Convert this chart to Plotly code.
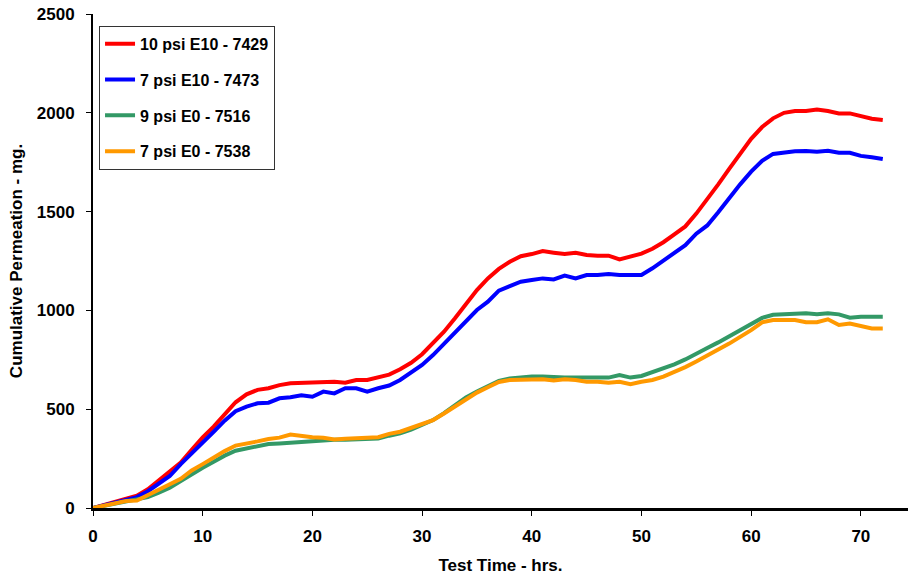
import plotly.graph_objects as go

# Test time (hours), one reading per hour
hours = list(range(0, 73))

# Cumulative permeation (mg) for each test
perm_10psi_e10 = [
    0, 15, 30, 45, 62, 95, 140, 180, 230, 295,
    358, 412, 475, 535, 575, 598, 606, 622, 631, 634,
    636, 639, 639, 634, 648, 648, 659, 675, 702, 735,
    778, 833, 892, 960, 1030, 1103, 1162, 1210, 1246, 1274,
    1285, 1300, 1292, 1285, 1292, 1280, 1277, 1277, 1258, 1272,
    1287, 1312, 1345, 1385, 1425, 1490, 1562, 1638, 1716, 1793,
    1868, 1928, 1972, 2000, 2009, 2009, 2016, 2009, 1997, 1997,
    1982, 1970, 1964,
]
perm_7psi_e10 = [
    0, 15, 28, 40, 55, 85, 125, 162, 222, 275,
    330, 386, 442, 490, 513, 530, 533, 555, 560, 570,
    563, 589, 580, 606, 606, 589, 606, 620, 648, 685,
    724, 774, 830, 887, 945, 1002, 1044, 1100, 1123, 1145,
    1154, 1162, 1157, 1176, 1162, 1179, 1179, 1184, 1179, 1179,
    1179, 1213, 1252, 1295, 1330, 1388, 1430, 1497, 1570, 1638,
    1702, 1757, 1792, 1800, 1805, 1807, 1803, 1808, 1798, 1798,
    1782, 1775, 1766,
]
perm_9psi_e0 = [
    0, 10, 22, 33, 40, 55, 78, 103, 137, 172,
    204, 234, 265, 290, 302, 315, 324, 327, 331, 335,
    338, 341, 345, 345, 347, 345, 352, 366, 378, 397,
    420, 445, 480, 521, 560, 589, 618, 643, 656, 661,
    665, 665, 660, 660, 660, 660, 660, 660, 673, 660,
    668, 687, 703, 727, 752, 783, 810, 838, 868, 900,
    932, 962, 978, 980, 985, 985, 980, 985, 980, 963,
    968, 968, 968,
]
perm_7psi_e0 = [
    0, 12, 25, 35, 38, 65, 88, 120, 148, 190,
    222, 257, 288, 316, 324, 337, 349, 356, 372, 364,
    358, 355, 347, 350, 355, 355, 358, 375, 386, 404,
    424, 445, 478, 513, 552, 584, 611, 638, 648, 648,
    650, 652, 645, 652, 648, 639, 639, 634, 639, 627,
    639, 648, 665, 688, 713, 741, 770, 798, 832, 866,
    900, 940, 951, 951, 951, 940, 940, 955, 926, 934,
    921, 909, 909,
]

series_names = ["10 psi E10 - 7429", "7 psi E10 - 7473", "9 psi E0 - 7516", "7 psi E0 - 7538"]
series_values = [perm_10psi_e10, perm_7psi_e10, perm_9psi_e0, perm_7psi_e0]
series_colors = ["#FF0000", "#0000FF", "#339966", "#FF9900"]

x_ticks = [0, 10, 20, 30, 40, 50, 60, 70]
y_ticks = [0, 500, 1000, 1500, 2000, 2500]

FONT = "Liberation Sans, Arial, sans-serif"

fig = go.Figure()
for i, (name, vals, col) in enumerate(zip(series_names, series_values, series_colors)):
    fig.add_trace(go.Scatter(
        x=hours, y=vals, name=name, mode="lines",
        line=dict(color=col, width=4),
        legendgroup=f"g{i}",
    ))

fig.update_layout(
    width=909, height=576,
    margin=dict(l=93, r=1, t=14, b=68),
    paper_bgcolor="white", plot_bgcolor="white",
    font=dict(family=FONT, color="black"),
    showlegend=True,
    legend=dict(
        x=0.0074, y=0.976, xanchor="left", yanchor="top",
        bgcolor="white", bordercolor="#333333", borderwidth=1,
        font=dict(family=FONT, size=16, color="black", weight="bold"),
        tracegroupgap=12,
    ),
)

fig.update_xaxes(
    range=[0, 74.3], tickvals=x_ticks,
    showline=True, linecolor="black", linewidth=3,
    ticks="outside", ticklen=5, tickcolor="black", tickwidth=1,
    showgrid=False, zeroline=False,
    tickfont=dict(family=FONT, size=17, color="black", weight="bold"),
    ticklabelstandoff=6,
    title=dict(text="Test Time - hrs.", standoff=14,
               font=dict(family=FONT, size=17, color="black", weight="bold")),
)
fig.update_yaxes(
    range=[0, 2500], tickvals=y_ticks,
    showline=True, linecolor="black", linewidth=2,
    ticks="outside", ticklen=5, tickcolor="black", tickwidth=1,
    showgrid=False, zeroline=False,
    tickfont=dict(family=FONT, size=17, color="black", weight="bold"),
    ticklabelstandoff=8,
    title=dict(text="Cumulative Permeation - mg.", standoff=10,
               font=dict(family=FONT, size=17, color="black", weight="bold")),
)

fig.write_html("out.html")
